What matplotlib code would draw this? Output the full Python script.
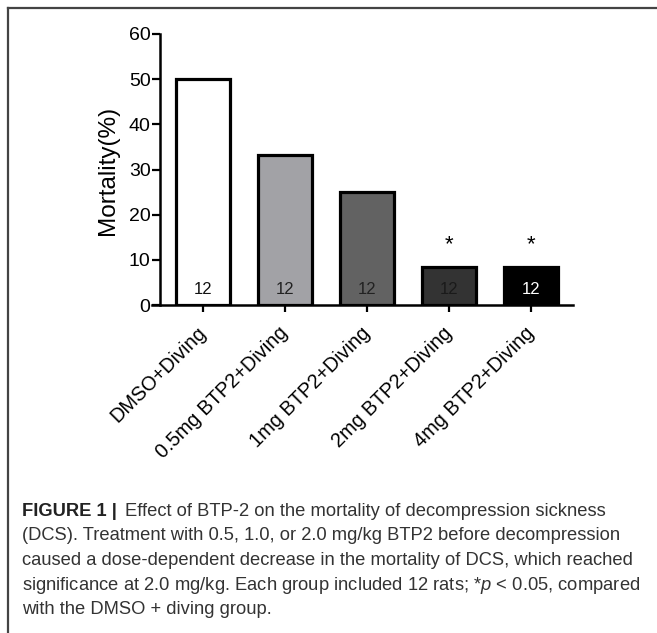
import matplotlib
matplotlib.use("Agg")
import matplotlib.pyplot as plt
from matplotlib.lines import Line2D

plt.rcParams["font.family"] = ["Liberation Sans", "DejaVu Sans"]
plt.rcParams["mathtext.fontset"] = "custom"
plt.rcParams["mathtext.rm"] = "Liberation Sans"
plt.rcParams["mathtext.it"] = "Liberation Sans:italic"

groups = ["DMSO+Diving", "0.5mg BTP2+Diving", "1mg BTP2+Diving",
          "2mg BTP2+Diving", "4mg BTP2+Diving"]
mortality = [50.0, 33.3, 25.0, 8.33, 8.33]
n_rats = [12, 12, 12, 12, 12]
significant = [False, False, False, True, True]
bar_colors = ["#ffffff", "#a2a2a6", "#626262", "#333333", "#000000"]
n_colors = ["#111111", "#222222", "#222222", "#1a1a1a", "#ffffff"]

caption_lines = [
    "(DCS). Treatment with 0.5, 1.0, or 2.0 mg/kg BTP2 before decompression",
    "caused a dose-dependent decrease in the mortality of DCS, which reached",
    "significance at 2.0 mg/kg. Each group included 12 rats; *$\\mathit{p}$ < 0.05, compared",
    "with the DMSO + diving group.",
]

W, H = 657, 633
fig = plt.figure(figsize=(W / 100, H / 100), dpi=100)
fig.patch.set_facecolor("white")

# axes box in pixels: x from 152 to 573, y from 34 (60) to 305 (0)
ax = fig.add_axes([152 / W, 1 - 305 / H, (573 - 152) / W, (305 - 34) / H])
x = range(len(groups))
ax.bar(x, mortality, width=0.66, color=bar_colors, edgecolor="black",
       linewidth=2.3, zorder=3)

for i in x:
    ax.text(i, 3.4, str(n_rats[i]), ha="center", va="center",
            fontsize=12, color=n_colors[i], zorder=4)
    if significant[i]:
        ax.text(i, 13.3, "*", ha="center", va="center", fontsize=16,
                color="black", zorder=4)

ax.set_xlim(-0.62, 4.51)
ax.set_ylim(0, 60)
ax.spines["top"].set_visible(False)
ax.spines["right"].set_visible(False)
ax.spines["left"].set_position(("data", -0.52))
ax.spines["left"].set_linewidth(1.8)
ax.spines["bottom"].set_linewidth(1.8)
ax.spines["left"].set_bounds(0, 60)

ax.set_yticks(range(0, 61, 10))
ax.tick_params(axis="y", direction="out", length=6, width=1.6,
               labelsize=14, pad=1)
ax.set_xticks(list(x))
ax.set_xticklabels(groups, rotation=45, ha="right", va="center",
                   rotation_mode="anchor", fontsize=14.3)
ax.tick_params(axis="x", direction="out", length=5, width=1.6, pad=13)
ax.patch.set_visible(False)

fig.text(108 / W, 1 - 170 / H, "Mortality(%)", rotation=90, ha="center",
         va="center", fontsize=17.5)

# frame lines of the figure panel
fig.add_artist(Line2D([8 / W, 1], [1 - 8 / H, 1 - 8 / H], color="#444444",
                      linewidth=1.6, transform=fig.transFigure))
fig.add_artist(Line2D([8 / W, 8 / W], [0, 1 - 8 / H], color="#444444",
                      linewidth=1.6, transform=fig.transFigure))

# caption
cap_size = 13.2
y0 = 516
fig.text(22 / W, 1 - y0 / H, "FIGURE 1 |", fontsize=cap_size,
         fontweight="bold", color="#222222", va="baseline")
fig.text(125 / W, 1 - y0 / H,
         "Effect of BTP-2 on the mortality of decompression sickness",
         fontsize=cap_size, color="#333333", va="baseline")
for k, line in enumerate(caption_lines):
    fig.text(22 / W, 1 - (y0 + 24.5 * (k + 1)) / H, line, fontsize=cap_size,
             color="#333333", va="baseline")

fig.savefig("out.png", dpi=100)
